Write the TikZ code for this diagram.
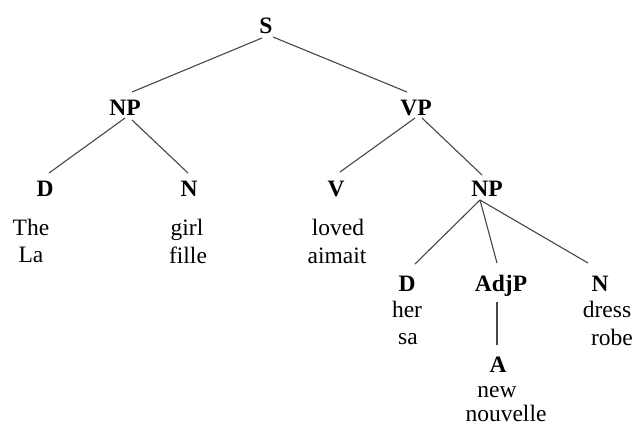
\documentclass[tikz,border=0pt]{standalone}
\usepackage{fontspec}
\setmainfont{Liberation Serif}
\usetikzlibrary{calc}
\begin{document}
\begin{tikzpicture}[x=1pt,y=-1pt,
  every node/.style={inner sep=0pt,anchor=base,font=\fontsize{23.5}{27}\selectfont},
  cat/.style={font=\fontsize{23.5}{27}\selectfont\bfseries},
  word/.style={},
  branch/.style={draw=black!72,line width=1.1pt}]
\useasboundingbox (0,0) rectangle (634,426);
% categories
\node[cat] (S) at (266,33) {S};
\node[cat] (NP) at (125,115) {NP};
\node[cat] (VP) at (416,115) {VP};
\node[cat] (D) at (45,196) {D};
\node[cat] (N) at (189,196) {N};
\node[cat] (V) at (336,196) {V};
\node[cat] (NPb) at (487,196) {NP};
\node[cat] (Db) at (407,291) {D};
\node[cat] (AdjP) at (501,291) {AdjP};
\node[cat] (Nb) at (600,291) {N};
\node[cat] (A) at (498,372) {A};
% words
\node[word] (the) at (31,235) {The};
\node[word] (la) at (31,262) {La};
\node[word] (girl) at (187,235) {girl};
\node[word] (fille) at (188,263) {fille};
\node[word] (loved) at (338,235) {loved};
\node[word] (aimait) at (337,263) {aimait};
\node[word] (her) at (407,317) {her};
\node[word] (sa) at (408,344) {sa};
\node[word] (dress) at (607,317) {dress};
\node[word] (robe) at (612,345) {robe};
\node[word] (new) at (497,397) {new};
\node[word] (nouvelle) at (506,421) {nouvelle};
% branches
\draw[branch] ($(S.base)+(-4,5)$) -- ($(NP.base)+(7,-23)$);
\draw[branch] ($(S.base)+(7,4)$) -- ($(VP.base)+(-9,-23)$);
\draw[branch] ($(NP.base)+(0,3)$) -- ($(D.base)+(4,-23)$);
\draw[branch] ($(NP.base)+(7,5)$) -- ($(N.base)+(-1,-23)$);
\draw[branch] ($(VP.base)+(-1,3)$) -- ($(V.base)+(4,-24)$);
\draw[branch] ($(VP.base)+(6,3)$) -- ($(NPb.base)+(-5,-21)$);
\draw[branch] ($(NPb.base)+(-7,4)$) -- ($(Db.base)+(8,-27)$);
\draw[branch] ($(NPb.base)+(-7,4)$) -- ($(AdjP.base)+(-4,-28)$);
\draw[branch] ($(NPb.base)+(-7,4)$) -- ($(Nb.base)+(-12,-28)$);
\draw[branch] ($(AdjP.base)+(-4,11)$) -- ($(A.base)+(-1,-27)$);
\end{tikzpicture}
\end{document}
